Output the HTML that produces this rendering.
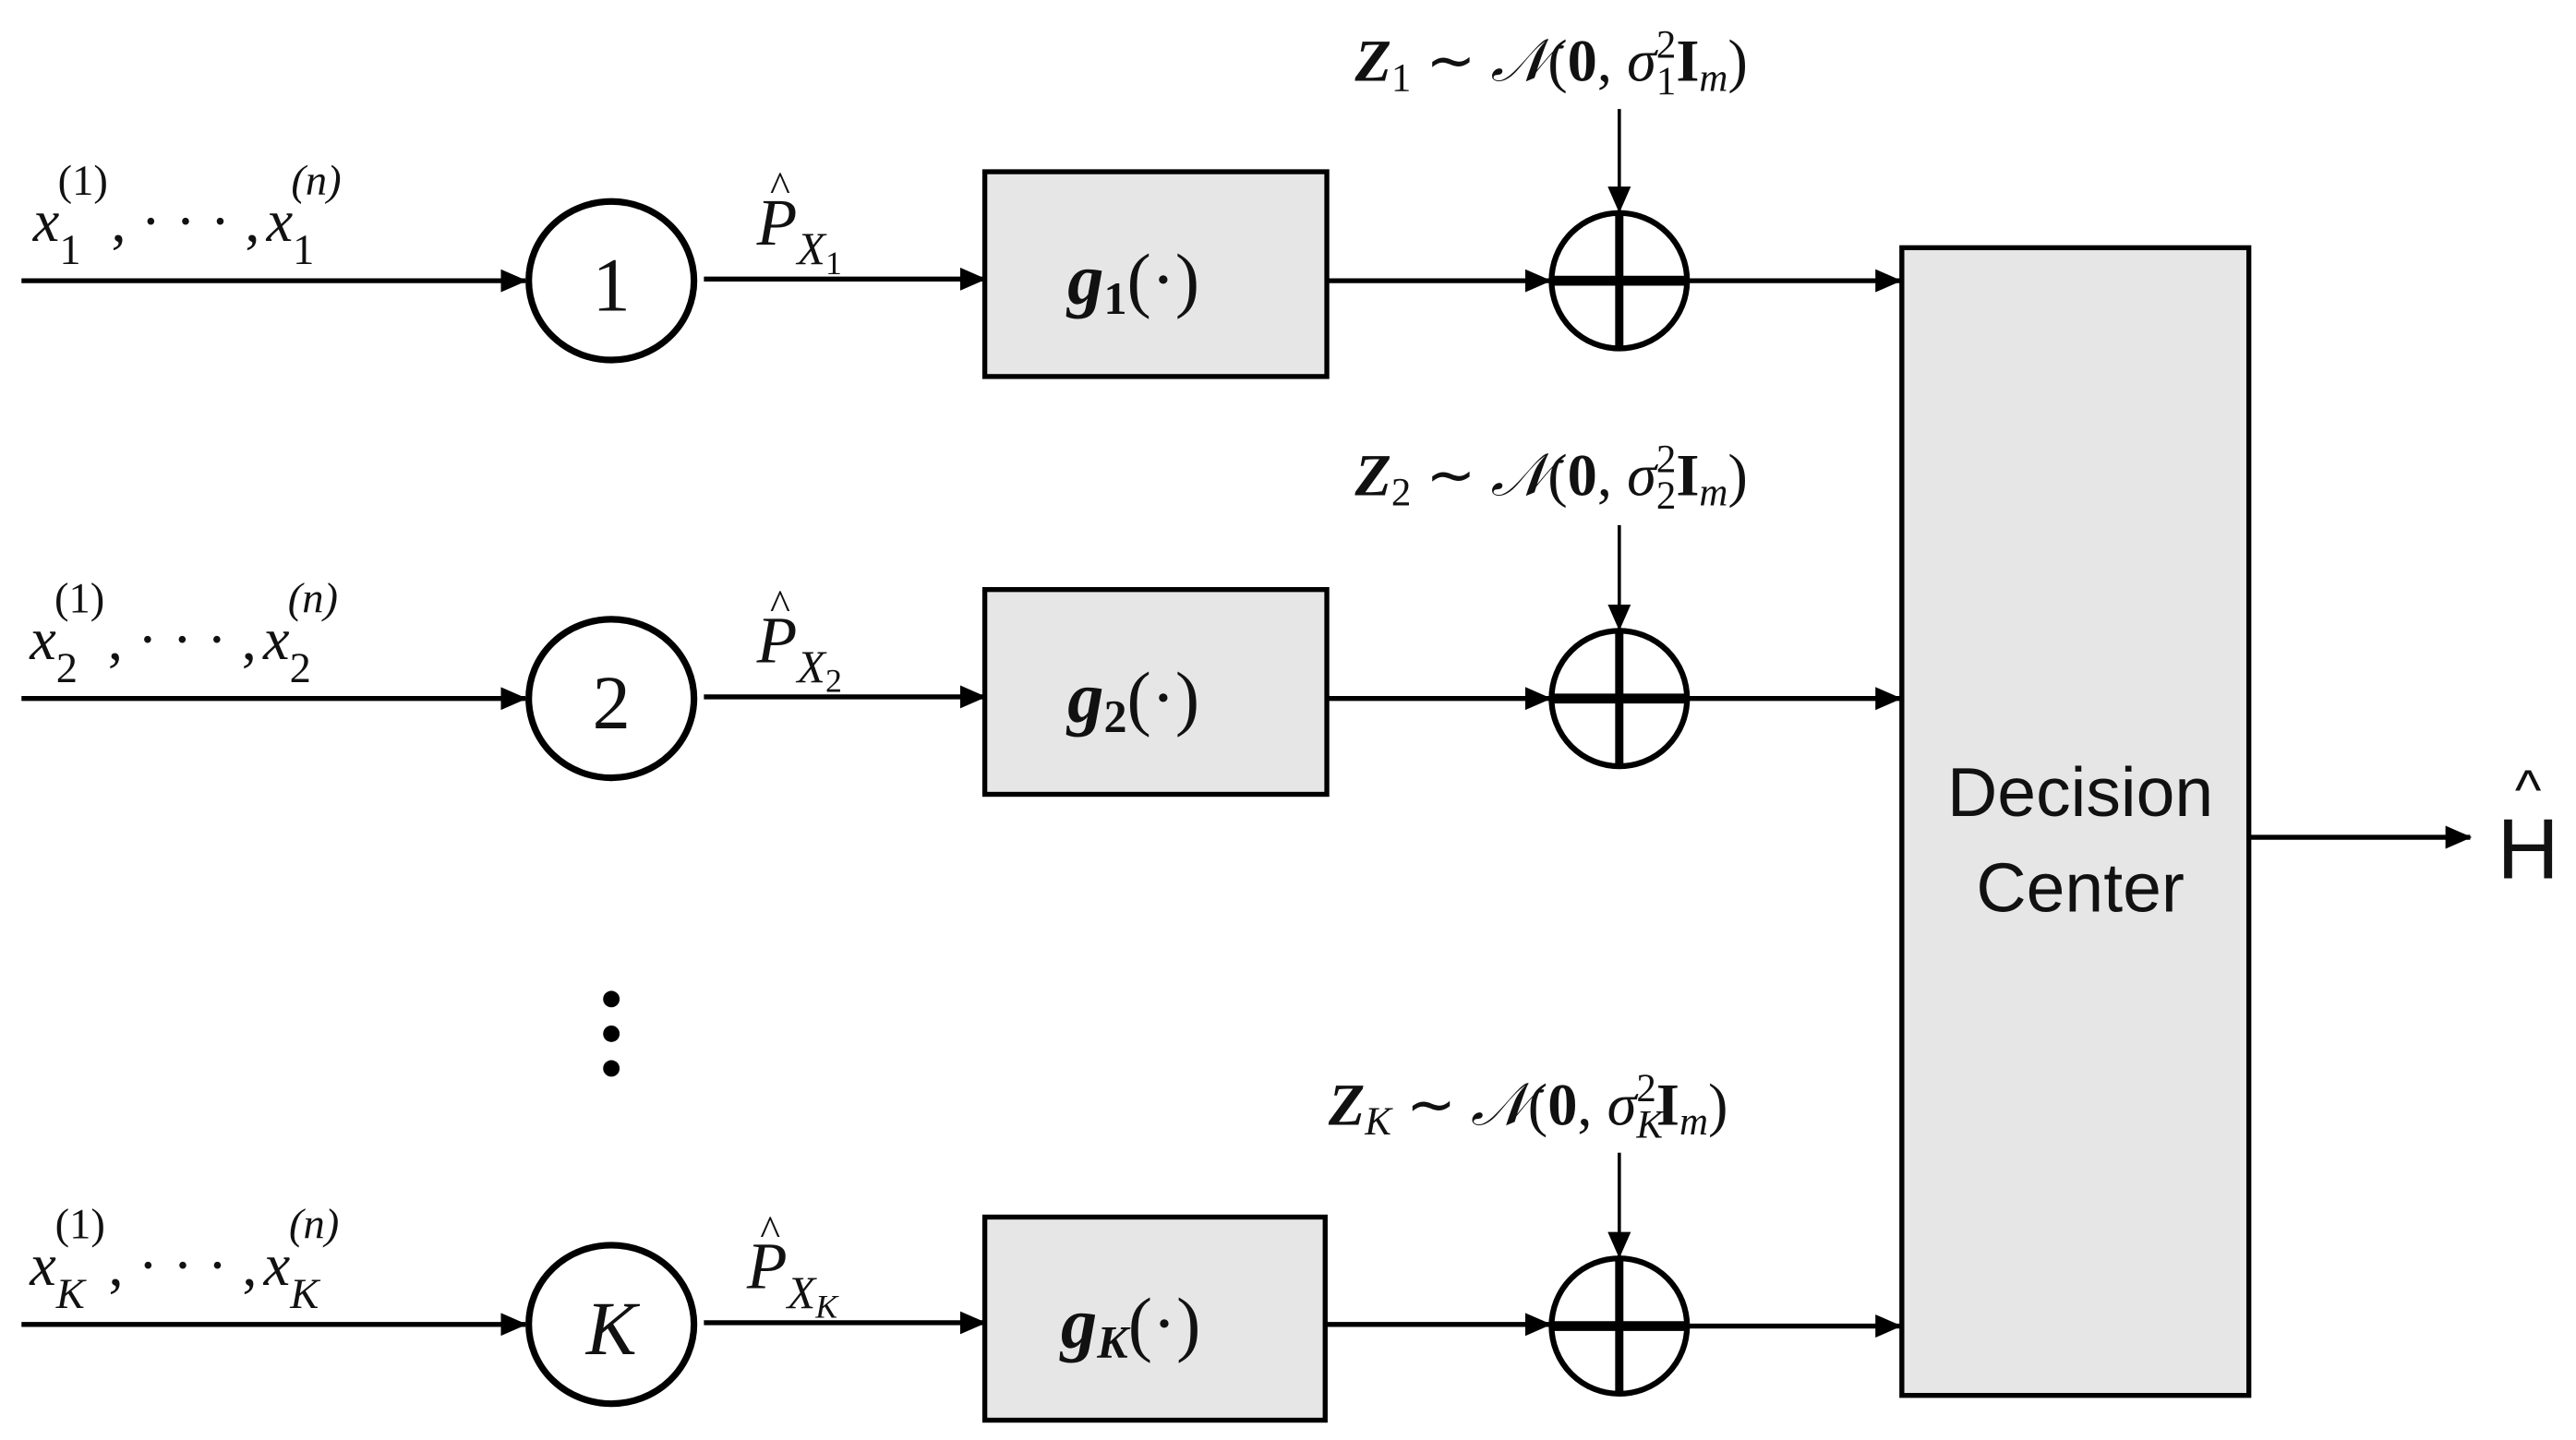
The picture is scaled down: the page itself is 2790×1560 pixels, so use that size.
<!DOCTYPE html>
<html><head><meta charset="utf-8"><style>
html,body{margin:0;padding:0;background:#fff;}
svg{display:block;}
text{font-family:"Liberation Serif",serif;fill:#111;}
.i{font-style:italic;}
.b{font-weight:bold;}
</style></head><body>
<svg width="2790" height="1560" viewBox="0 0 1559 872" preserveAspectRatio="none" xmlns="http://www.w3.org/2000/svg">
<defs>
<marker id="a" markerWidth="10" markerHeight="10" refX="9" refY="5" orient="auto" markerUnits="userSpaceOnUse" viewBox="0 0 10 10">
<path d="M0,0 L10,5 L0,10 z" fill="#000"/></marker>
<marker id="a2" markerWidth="16" markerHeight="14" refX="15" refY="7" orient="auto" markerUnits="userSpaceOnUse" viewBox="0 0 16 14">
<path d="M0,0 L16,7 L0,14 z" fill="#000"/></marker>
</defs>
<g stroke="#000" fill="none" stroke-width="3">
<!-- row lines -->
<line x1="13" y1="170" x2="318" y2="170" marker-end="url(#a2)"/>
<line x1="426" y1="169" x2="596" y2="169" marker-end="url(#a2)"/>
<line x1="803" y1="170" x2="938" y2="170" marker-end="url(#a2)"/>
<line x1="1022" y1="170" x2="1150" y2="170" marker-end="url(#a2)"/>
<line x1="13" y1="423" x2="318" y2="423" marker-end="url(#a2)"/>
<line x1="426" y1="422" x2="596" y2="422" marker-end="url(#a2)"/>
<line x1="803" y1="423" x2="938" y2="423" marker-end="url(#a2)"/>
<line x1="1022" y1="423" x2="1150" y2="423" marker-end="url(#a2)"/>
<line x1="13" y1="802" x2="318" y2="802" marker-end="url(#a2)"/>
<line x1="426" y1="801" x2="596" y2="801" marker-end="url(#a2)"/>
<line x1="803" y1="802" x2="938" y2="802" marker-end="url(#a2)"/>
<line x1="1022" y1="803" x2="1150" y2="803" marker-end="url(#a2)"/>
<line x1="1361" y1="507" x2="1495" y2="507" marker-end="url(#a2)"/>
<line x1="980" y1="66" x2="980" y2="128" stroke-width="2" marker-end="url(#a2)"/>
<line x1="980" y1="318" x2="980" y2="381" stroke-width="2" marker-end="url(#a2)"/>
<line x1="980" y1="698" x2="980" y2="761" stroke-width="2" marker-end="url(#a2)"/>
</g>
<g stroke="#000" stroke-width="4" fill="#fff">
<ellipse cx="370" cy="170" rx="50" ry="48"/>
<ellipse cx="370" cy="423" rx="50" ry="48"/>
<ellipse cx="370" cy="802" rx="50" ry="48"/>
</g>
<g stroke="#000" stroke-width="3" fill="#e6e6e6">
<rect x="596" y="104" width="207" height="124"/>
<rect x="596" y="357" width="207" height="124"/>
<rect x="596" y="737" width="206" height="123"/>
<rect x="1151" y="150" width="210" height="695"/>
</g>
<g stroke="#000" fill="none">
<ellipse cx="980" cy="170" rx="41" ry="41" stroke-width="3.5"/>
<line x1="939" y1="170" x2="1021" y2="170" stroke-width="6"/>
<line x1="980" y1="129" x2="980" y2="211" stroke-width="5"/>
<ellipse cx="980" cy="423" rx="41" ry="41" stroke-width="3.5"/>
<line x1="939" y1="423" x2="1021" y2="423" stroke-width="6"/>
<line x1="980" y1="382" x2="980" y2="464" stroke-width="5"/>
<ellipse cx="980" cy="803" rx="41" ry="41" stroke-width="3.5"/>
<line x1="939" y1="803" x2="1021" y2="803" stroke-width="6"/>
<line x1="980" y1="762" x2="980" y2="844" stroke-width="5"/>
</g>
<g fill="#000"><circle cx="370" cy="605" r="5"/><circle cx="370" cy="626" r="5"/><circle cx="370" cy="647" r="5"/></g>
<!-- circle labels -->
<text x="370" y="188" font-size="46" text-anchor="middle">1</text>
<text x="370" y="441" font-size="46" text-anchor="middle">2</text>
<text x="370" y="820" font-size="46" text-anchor="middle" class="i">K</text>
<!-- input labels -->
<g font-size="36">
<text x="20" y="146"><tspan class="i">x</tspan><tspan font-size="26" dy="14">1</tspan><tspan font-size="26" dx="-14" dy="-42">(1)</tspan><tspan dy="28" dx="2">, · · · ,</tspan><tspan class="i" dx="4">x</tspan><tspan font-size="26" dy="14">1</tspan><tspan font-size="26" class="i" dx="-14" dy="-42">(n)</tspan></text>
<text x="18" y="399"><tspan class="i">x</tspan><tspan font-size="26" dy="14">2</tspan><tspan font-size="26" dx="-14" dy="-42">(1)</tspan><tspan dy="28" dx="2">, · · · ,</tspan><tspan class="i" dx="4">x</tspan><tspan font-size="26" dy="14">2</tspan><tspan font-size="26" class="i" dx="-14" dy="-42">(n)</tspan></text>
<text x="18" y="778"><tspan class="i">x</tspan><tspan font-size="26" class="i" dy="14">K</tspan><tspan font-size="26" dx="-18" dy="-42">(1)</tspan><tspan dy="28" dx="2">, · · · ,</tspan><tspan class="i" dx="4">x</tspan><tspan font-size="26" class="i" dy="14">K</tspan><tspan font-size="26" class="i" dx="-18" dy="-42">(n)</tspan></text>
</g>
<!-- P hat labels -->
<g font-size="40">
<text x="458" y="148" class="i">P<tspan font-size="28" dy="12">X</tspan><tspan font-size="20" dy="6" font-style="normal">1</tspan></text>
<text x="466" y="122" font-size="26">^</text>
<text x="458" y="401" class="i">P<tspan font-size="28" dy="12">X</tspan><tspan font-size="20" dy="6" font-style="normal">2</tspan></text>
<text x="466" y="375" font-size="26">^</text>
<text x="452" y="780" class="i">P<tspan font-size="28" dy="12">X</tspan><tspan font-size="20" dy="6">K</tspan></text>
<text x="460" y="754" font-size="26">^</text>
</g>
<!-- g labels -->
<g font-size="44">
<text x="646" y="184"><tspan class="i b">g</tspan><tspan font-size="28" class="b" dy="6">1</tspan><tspan dy="-6">(·)</tspan></text>
<text x="646" y="437"><tspan class="i b">g</tspan><tspan font-size="28" class="b" dy="6">2</tspan><tspan dy="-6">(·)</tspan></text>
<text x="642" y="816"><tspan class="i b">g</tspan><tspan font-size="28" class="b i" dy="6">K</tspan><tspan dy="-6">(·)</tspan></text>
</g>
<!-- noise labels -->
<g font-size="36">
<text x="820" y="49"><tspan class="i b">Z</tspan><tspan font-size="24" dy="6">1</tspan><tspan dy="-6"> ∼ </tspan><tspan class="i">𝒩</tspan>(<tspan class="b">0</tspan>, <tspan class="i">σ</tspan><tspan font-size="24" dy="8">1</tspan><tspan font-size="24" dx="-12" dy="-22">2</tspan><tspan class="b" dy="14">I</tspan><tspan font-size="24" class="i" dy="6">m</tspan><tspan dy="-6">)</tspan></text>
<text x="820" y="300"><tspan class="i b">Z</tspan><tspan font-size="24" dy="6">2</tspan><tspan dy="-6"> ∼ </tspan><tspan class="i">𝒩</tspan>(<tspan class="b">0</tspan>, <tspan class="i">σ</tspan><tspan font-size="24" dy="8">2</tspan><tspan font-size="24" dx="-12" dy="-22">2</tspan><tspan class="b" dy="14">I</tspan><tspan font-size="24" class="i" dy="6">m</tspan><tspan dy="-6">)</tspan></text>
<text x="804" y="681"><tspan class="i b">Z</tspan><tspan font-size="24" class="i" dy="6">K</tspan><tspan dy="-6"> ∼ </tspan><tspan class="i">𝒩</tspan>(<tspan class="b">0</tspan>, <tspan class="i">σ</tspan><tspan font-size="24" class="i" dy="8">K</tspan><tspan font-size="24" dx="-16" dy="-22">2</tspan><tspan class="b" dy="14">I</tspan><tspan font-size="24" class="i" dy="6">m</tspan><tspan dy="-6">)</tspan></text>
</g>
<text x="1259" y="494" font-size="42" text-anchor="middle" style="font-family:'Liberation Sans',sans-serif">Decision</text>
<text x="1259" y="552" font-size="42" text-anchor="middle" style="font-family:'Liberation Sans',sans-serif">Center</text>
<text x="1530" y="532" font-size="52" text-anchor="middle" style="font-family:'Liberation Sans',sans-serif">H</text>
<text x="1530" y="490" font-size="34" text-anchor="middle" style="font-family:'Liberation Sans',sans-serif">^</text>
</svg>
</body></html>
